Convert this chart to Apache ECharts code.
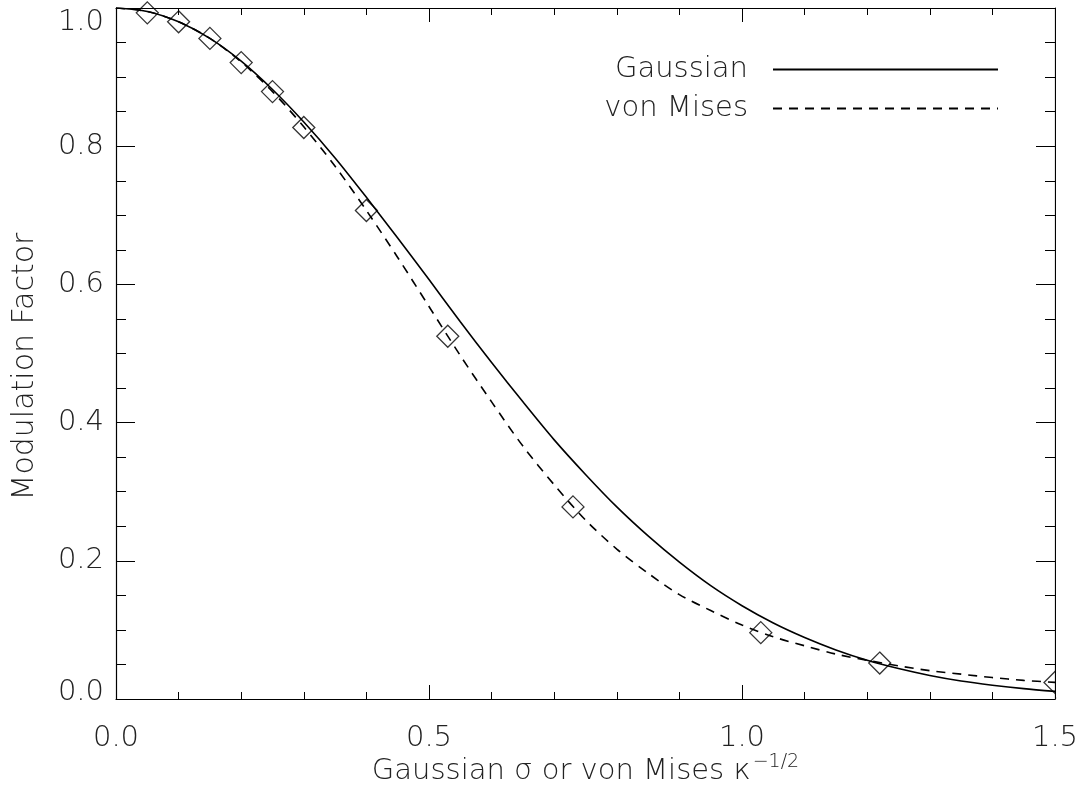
<!DOCTYPE html>
<html>
<head>
<meta charset="utf-8">
<script src="https://cdn.jsdelivr.net/npm/echarts@6/dist/echarts.min.js"></script>
<style>
html,body{margin:0;padding:0;background:#fff;}
#chart{width:1083px;height:790px;}
</style>
</head>
<body>
<div id="chart"></div>
<script>
// ---- data ----
const xValues = [0, 0.05, 0.1, 0.15, 0.2, 0.25, 0.3, 0.35, 0.4, 0.45, 0.5, 0.55, 0.6, 0.65, 0.7, 0.75,
  0.8, 0.85, 0.9, 0.95, 1.0, 1.05, 1.1, 1.15, 1.2, 1.25, 1.3, 1.35, 1.4, 1.45, 1.5];
const gaussian = [1.000, 0.995, 0.980, 0.956, 0.923, 0.882, 0.835, 0.783, 0.726, 0.667, 0.607, 0.546,
  0.487, 0.430, 0.375, 0.325, 0.278, 0.236, 0.198, 0.164, 0.135, 0.110, 0.089, 0.071, 0.056, 0.044,
  0.034, 0.026, 0.020, 0.015, 0.011];
const vonMises = [1.000, 0.995, 0.980, 0.956, 0.922, 0.879, 0.828, 0.771, 0.707, 0.639, 0.568, 0.497,
  0.430, 0.366, 0.310, 0.259, 0.217, 0.182, 0.151, 0.128, 0.107, 0.090, 0.077, 0.065, 0.056, 0.048,
  0.041, 0.036, 0.031, 0.027, 0.024];
const markerX = [0.05, 0.10, 0.15, 0.20, 0.25, 0.30, 0.40, 0.53, 0.73, 1.03, 1.22, 1.50];
const markerY = [0.993, 0.980, 0.956, 0.921, 0.879, 0.827, 0.707, 0.525, 0.278, 0.096, 0.052, 0.024];
const xTicks = ['0.0', '0.5', '1.0', '1.5'];
const yTicks = ['0.0', '0.2', '0.4', '0.6', '0.8', '1.0'];
const seriesNames = ['Gaussian', 'von Mises'];

const FONT = 'DejaVu Sans';
const TXT = '#222';

const gaussData = xValues.map((x, i) => [x, gaussian[i]]);
const vmData = xValues.map((x, i) => [x, vonMises[i]]);
const markData = markerX.map((x, i) => [x, markerY[i]]);

function xAxisDef(pos, showLabel) {
  return {
    type: 'value', position: pos, min: 0, max: 1.5, interval: 0.5,
    axisLine: { show: true, onZero: false, lineStyle: { color: '#000', width: 1.2 } },
    axisTick: { show: true, inside: true, length: 14, lineStyle: { color: '#000', width: 1 } },
    minorTick: { show: true, splitNumber: 5, length: 7, lineStyle: { color: '#000', width: 1 } },
    splitLine: { show: false },
    axisLabel: {
      show: showLabel, margin: 25, fontFamily: FONT, fontSize: 29, fontWeight: 200, color: TXT,
      formatter: v => xTicks[Math.round(v / 0.5)]
    },
    name: showLabel ? 'Gaussian σ or von Mises κ{sup|−1/2}' : '',
    nameLocation: 'middle', nameGap: 54, nameMoveOverlap: false,
    nameTextStyle: {
      fontFamily: FONT, fontSize: 29, fontWeight: 200, color: TXT,
      rich: { sup: { fontFamily: FONT, fontSize: 19, fontWeight: 200, color: TXT, verticalAlign: 'bottom', padding: [0, 0, 17, 2] } }
    }
  };
}
function yAxisDef(pos, showLabel) {
  return {
    type: 'value', position: pos, min: 0, max: 1.0, interval: 0.2,
    axisLine: { show: true, onZero: false, lineStyle: { color: '#000', width: 1.2 } },
    axisTick: { show: true, inside: true, length: 19, lineStyle: { color: '#000', width: 1 } },
    minorTick: { show: true, splitNumber: 4, length: 10, lineStyle: { color: '#000', width: 1 } },
    splitLine: { show: false },
    axisLabel: {
      show: showLabel, margin: 12, fontFamily: FONT, fontSize: 29, fontWeight: 200, color: TXT,
      verticalAlignMaxLabel: 'top',
      formatter: v => {
        const i = Math.round(v / 0.2);
        return i === 0 ? '{lo|' + yTicks[i] + '}' : yTicks[i];
      },
      rich: { lo: { fontFamily: FONT, fontSize: 29, fontWeight: 200, color: TXT, padding: [0, 0, 14, 0] } }
    },
    name: showLabel ? 'Modulation Factor' : '',
    nameLocation: 'middle', nameGap: 76, nameRotate: 90, nameMoveOverlap: false,
    nameTextStyle: { fontFamily: FONT, fontSize: 30, fontWeight: 200, color: TXT, padding: [0, 26, 0, 0] }
  };
}

const chart = echarts.init(document.getElementById('chart'), null, { renderer: 'canvas' });
const GRID = { left: 116, right: 28, top: 8, bottom: 91 };
chart.setOption({
  animation: false,
  backgroundColor: '#fff',
  grid: Object.assign({ containLabel: false, outerBoundsMode: 'none' }, GRID),
  legend: {
    data: seriesNames,
    orient: 'vertical', right: 79, top: 50, align: 'right',
    itemWidth: 225, itemHeight: 14, itemGap: 10,
    itemStyle: { opacity: 0 },
    textStyle: { fontFamily: FONT, fontSize: 29, fontWeight: 200, color: TXT, padding: [0, 20, 0, 0] },
    selectedMode: false
  },
  xAxis: [xAxisDef('bottom', true), xAxisDef('top', false)],
  yAxis: [yAxisDef('left', true), yAxisDef('right', false)],
  series: [
    {
      name: seriesNames[0], type: 'line', data: gaussData, smooth: 0.3, symbol: 'none', showSymbol: false,
      lineStyle: { color: '#000', width: 1.6, type: 'solid' }, itemStyle: { color: '#000' }, z: 3
    },
    {
      name: seriesNames[1], type: 'line', data: vmData, smooth: 0.3, symbol: 'none', showSymbol: false,
      lineStyle: { color: '#000', width: 1.6, type: [9, 7] }, itemStyle: { color: '#000' }, z: 3
    },
    {
      name: 'markers', type: 'scatter', data: markData, symbol: 'diamond', symbolSize: 22,
      itemStyle: { color: 'rgba(0,0,0,0)', borderColor: '#000', borderWidth: 1.3 }, z: 4, clip: false
    }
  ],
  graphic: [{
    type: 'rect', z: 100,
    shape: { x: 1083 - GRID.right + 1, y: 0, width: GRID.right, height: 790 - GRID.bottom - 2 },
    style: { fill: '#fff' }
  }]
});
</script>
</body>
</html>
